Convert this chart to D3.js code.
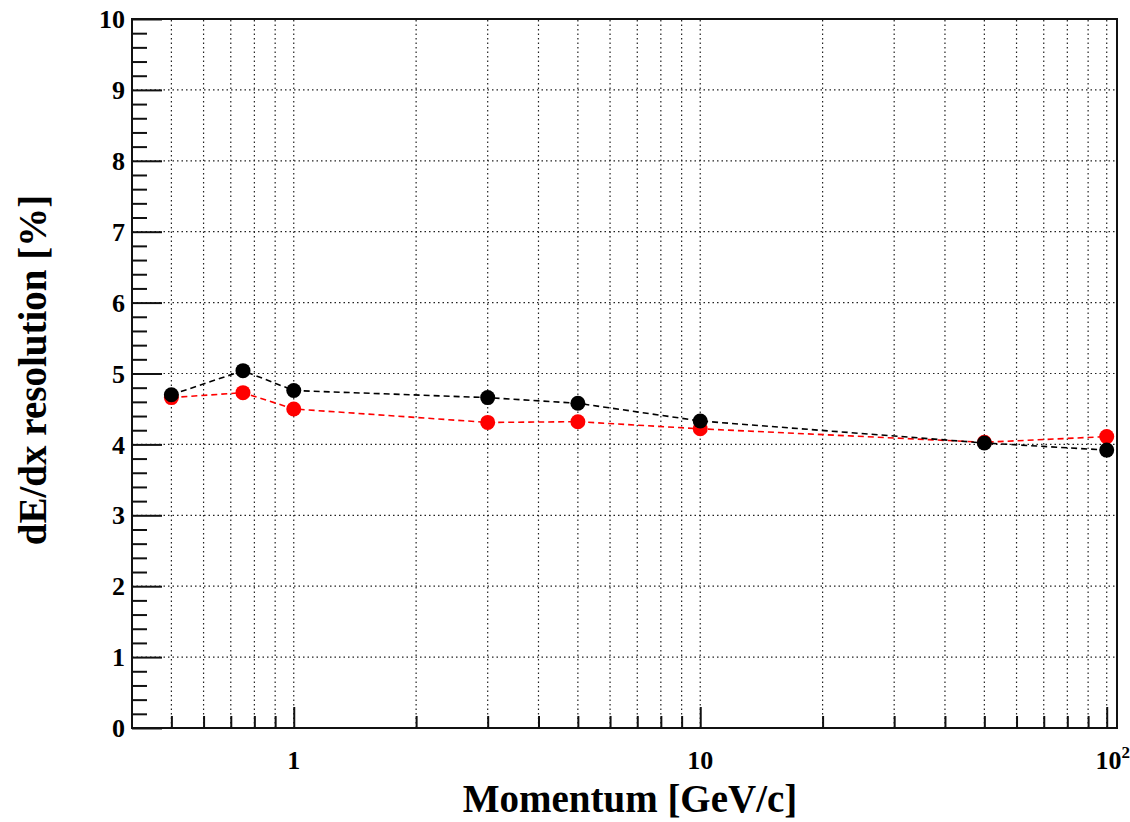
<!DOCTYPE html>
<html>
<head>
<meta charset="utf-8">
<script src="https://cdn.jsdelivr.net/npm/d3@7"></script>
<style>
  body { margin: 0; background: #fff; }
  text { font-family: "Liberation Serif", "DejaVu Serif", serif; font-weight: bold; }
</style>
</head>
<body>
<svg width="1130" height="822"></svg>
<script>
var width = 1130;
var height = 822;
var margin = { left: 132, right: 13, top: 19, bottom: 94 };

// momentum points [GeV/c]
var momentum = [0.5, 0.75, 1, 3, 5, 10, 50, 100];
// dE/dx resolution [%]
var blackRes = [4.70, 5.04, 4.76, 4.66, 4.58, 4.33, 4.02, 3.92];
var redRes = [4.66, 4.73, 4.50, 4.31, 4.32, 4.22, 4.03, 4.11];

var yTicks = [0, 1, 2, 3, 4, 5, 6, 7, 8, 9, 10];
var xMajor = [1, 10, 100];
var xMinor = [0.5, 0.6, 0.7, 0.8, 0.9, 2, 3, 4, 5, 6, 7, 8, 9, 20, 30, 40, 50, 60, 70, 80, 90];

var svg = d3.select("svg");

var xScale = d3.scaleLog()
  .domain([0.4, 106])
  .range([margin.left, width - margin.right]);
var yScale = d3.scaleLinear()
  .domain([0, 10])
  .range([height - margin.bottom, margin.top]);

var x0 = margin.left, x1 = width - margin.right;
var y0 = height - margin.bottom, y1 = margin.top;

// GRID
var grid = svg.append("g")
  .attr("stroke", "#222")
  .attr("stroke-width", 1.2)
  .attr("stroke-dasharray", "1.5,3");
grid.selectAll(".gx")
  .data(xMajor.concat(xMinor))
  .enter()
  .append("line")
  .attr("x1", (d) => xScale(d))
  .attr("x2", (d) => xScale(d))
  .attr("y1", y0)
  .attr("y2", y1);
grid.selectAll(".gy")
  .data(yTicks.slice(1, -1))
  .enter()
  .append("line")
  .attr("x1", x0)
  .attr("x2", x1)
  .attr("y1", (d) => yScale(d))
  .attr("y2", (d) => yScale(d));

// Y AXIS - ticks drawn inward like ROOT
var yAxis = d3.axisRight(yScale)
  .tickValues(yTicks)
  .tickSize(30)
  .tickFormat("");
var yAxisMinor = d3.axisRight(yScale)
  .tickValues(d3.range(0, 10.01, 0.2).filter((v) => Math.abs(v - Math.round(v)) > 0.01))
  .tickSize(15)
  .tickFormat("");
svg.append("g").attr("transform", `translate(${x0},0)`).call(yAxis);
svg.append("g").attr("transform", `translate(${x0},0)`).call(yAxisMinor);

// X AXIS
var xAxis = d3.axisTop(xScale).tickValues(xMajor).tickSize(21).tickFormat("");
var xAxisMinor = d3.axisTop(xScale).tickValues(xMinor).tickSize(12).tickFormat("");
svg.append("g").attr("transform", `translate(0,${y0})`).call(xAxis);
svg.append("g").attr("transform", `translate(0,${y0})`).call(xAxisMinor);

svg.selectAll(".domain").remove();
svg.selectAll(".tick line").attr("stroke", "#111").attr("stroke-width", 2);

// FRAME
svg.append("rect")
  .attr("x", x0)
  .attr("y", y1)
  .attr("width", x1 - x0)
  .attr("height", y0 - y1)
  .attr("fill", "none")
  .attr("stroke", "#111")
  .attr("stroke-width", 2);

// Y TICK LABELS
svg.selectAll(".ylab")
  .data(yTicks)
  .enter()
  .append("text")
  .attr("x", x0 - 7)
  .attr("y", (d) => yScale(d))
  .attr("dy", "0.35em")
  .attr("text-anchor", "end")
  .style("font-size", "26px")
  .text((d) => d);

// X TICK LABELS
var xl = svg.selectAll(".xlab")
  .data(xMajor)
  .enter()
  .append("text")
  .attr("x", (d) => xScale(d))
  .attr("y", y0 + 41)
  .attr("text-anchor", "middle")
  .style("font-size", "26px");
xl.filter((d) => d < 100).text((d) => d);
xl.filter((d) => d === 100)
  .attr("dx", 6)
  .text("10")
  .append("tspan")
  .attr("dy", -11)
  .style("font-size", "17px")
  .text("2");

// AXIS TITLES
svg.append("text")
  .attr("x", 630)
  .attr("y", 812)
  .attr("text-anchor", "middle")
  .style("font-size", "39px")
  .text("Momentum [GeV/c]");

svg.append("text")
  .attr("transform", "rotate(-90)")
  .attr("x", -370)
  .attr("y", 46)
  .attr("text-anchor", "middle")
  .style("font-size", "39px")
  .text("dE/dx resolution [%]");

// SERIES
function drawSeries(values, color) {
  var pts = momentum.map((m, i) => [m, values[i]]);
  svg.append("path")
    .datum(pts)
    .attr("fill", "none")
    .attr("stroke", color)
    .attr("stroke-width", 1.6)
    .attr("stroke-dasharray", "6,4")
    .attr("d", d3.line().x((d) => xScale(d[0])).y((d) => yScale(d[1])));
  svg.append("g")
    .selectAll("circle")
    .data(pts)
    .enter()
    .append("circle")
    .attr("cx", (d) => xScale(d[0]))
    .attr("cy", (d) => yScale(d[1]))
    .attr("r", 7.5)
    .attr("fill", color);
}
drawSeries(redRes, "#ff0000");
drawSeries(blackRes, "#000000");
</script>
</body>
</html>
